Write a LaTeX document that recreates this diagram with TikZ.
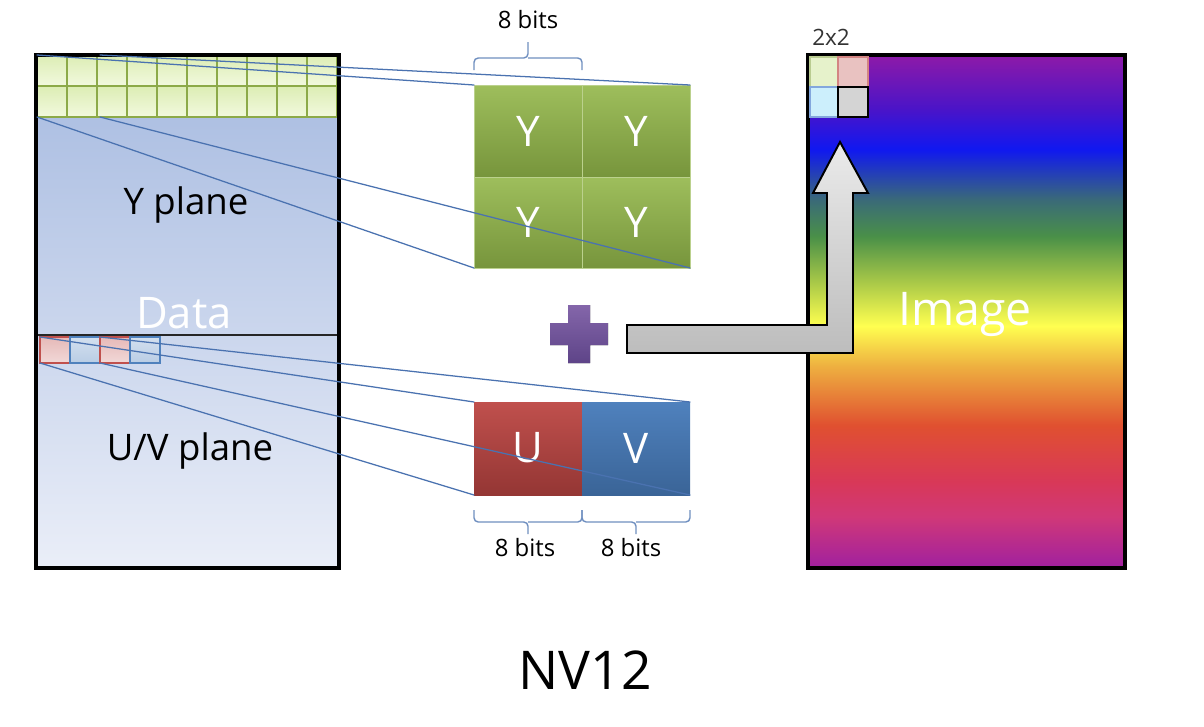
\documentclass[tikz,border=0pt]{standalone}
\usepackage{fontspec}
\setmainfont{Open Sans}
\usepackage{tkz-euclide}

\definecolor{lineblue}{HTML}{4A72B0}
\definecolor{bracecol}{HTML}{6F8FC0}
\definecolor{datatop}{HTML}{A6BAE0}
\definecolor{databot}{HTML}{EAEEF8}
\definecolor{ygrid}{HTML}{8CAA48}
\definecolor{ytiletop}{HTML}{DCEDB4}
\definecolor{ytilebot}{HTML}{F2F9DE}
\definecolor{ytop}{HTML}{9EBE5C}
\definecolor{ybot}{HTML}{77953C}
\definecolor{utop}{HTML}{C0504D}
\definecolor{ubot}{HTML}{943634}
\definecolor{vtop}{HTML}{4F81BD}
\definecolor{vbot}{HTML}{3A6497}
\definecolor{ptop}{HTML}{8466AA}
\definecolor{pbot}{HTML}{5E4488}
\definecolor{rb1}{HTML}{A020A0}
\definecolor{rb2}{HTML}{D03878}
\definecolor{rb3}{HTML}{D83858}
\definecolor{rb4}{HTML}{E05030}
\definecolor{rb5}{HTML}{EEB040}
\definecolor{rb6}{HTML}{FFFF50}
\definecolor{rb7}{HTML}{A8C848}
\definecolor{rb8}{HTML}{4A9048}
\definecolor{rb9}{HTML}{3A6A78}
\definecolor{rb10}{HTML}{1018F0}
\definecolor{rb11}{HTML}{4A14C8}
\definecolor{rb12}{HTML}{8E1AA8}
\pgfdeclareverticalshading{rainbow}{100bp}{color(0bp)=(rb1); color(25bp)=(rb1);
  color(30bp)=(rb2); color(33.4bp)=(rb3); color(38.9bp)=(rb4); color(44.7bp)=(rb5);
  color(48.6bp)=(rb6); color(52.9bp)=(rb7); color(57.3bp)=(rb8); color(60.9bp)=(rb9);
  color(65.8bp)=(rb10); color(69.7bp)=(rb11); color(75bp)=(rb12); color(100bp)=(rb12)}

\tikzset{
  ytile/.style={draw=ygrid,line width=1.6pt,top color=ytiletop,bottom color=ytilebot},
  ucell/.style={draw=utop,line width=1pt,top color=utop!40,bottom color=utop!22},
  vcell/.style={draw=vtop,line width=1pt,top color=vtop!25,bottom color=vtop!40},
  ycell/.style={draw=ytop!70!white,line width=0.6pt,top color=ytop,bottom color=ybot},
  letter/.style={text=white,font=\fontsize{30}{34}\selectfont},
  bits/.style={font=\fontsize{17}{20}\selectfont},
  plane/.style={font=\fontsize{26}{30}\selectfont},
  brc/.style={draw=bracecol,line width=1pt,rounded corners=3pt}
}

\begin{document}
\begin{tikzpicture}[x=0.025cm,y=-0.025cm]
\useasboundingbox[fill=white] (0,0) rectangle (1204,726);
% data buffer
\fill[top color=datatop,bottom color=databot] (36,55) rectangle (339,568);
\draw[black!85,line width=0.8pt] (36,335) -- (339,335);
\foreach \i in {0,...,9}
  \foreach \j in {0,1}
    \draw[ytile] ({37+30*\i},{55+31*\j}) rectangle ++(30,31);
\draw[ucell] (40,337) rectangle (70,363);
\draw[vcell] (70,337) rectangle (100,363);
\draw[ucell] (100,337) rectangle (130,363);
\draw[vcell] (130,337) rectangle (160,363);
\draw[line width=2.8pt] (36,55) rectangle (339,568);
\node[plane] (yplane) at (186,205) {Y plane};
\node[text=white,font=\fontsize{31}{36}\selectfont] (data) at (184,313) {Data};
\node[plane] (uvplane) at (190,451) {U/V plane};
% Y samples
\draw[ycell] (474,85) rectangle (582,177);
\draw[ycell] (582,85) rectangle (690,177);
\draw[ycell] (474,177) rectangle (582,268);
\draw[ycell] (582,177) rectangle (690,268);
\node[letter] (y1) at (528,131) {Y};
\node[letter] (y2) at (636,131) {Y};
\node[letter] (y3) at (528,222) {Y};
\node[letter] (y4) at (636,222) {Y};
% U/V samples
\fill[top color=utop,bottom color=ubot] (474,402) rectangle (582,495);
\fill[top color=vtop,bottom color=vbot] (582,402) rectangle (690,495);
\node[letter] (u) at (528,448) {U};
\node[letter] (v) at (636,448) {V};
% braces
\draw[brc] (474,70) |- (528,58) -- (528,42);
\draw[brc] (582,70) |- (528,58);
\draw[brc] (474,510) |- (528,522) -- (528,534);
\draw[brc] (582,510) |- (528,522);
\draw[brc] (582,510) |- (636,522) -- (636,534);
\draw[brc] (690,510) |- (636,522);
\node[bits] (bitsy) at (528,20) {8 bits};
\node[bits] (bitsu) at (525,548) {8 bits};
\node[bits] (bitsv) at (631,548) {8 bits};
% lines
\tkzDefPoints{37/55/ya,100/55/yb,37/117/yc,100/117/yd,474/85/Ya,690/85/Yb,474/268/Yc,690/268/Yd}
\tkzDefPoints{40/337/ua,100/337/ub,40/363/uc,100/363/ud,474/402/Ua,690/402/Ub,474/495/Uc,690/495/Ud}
\tkzDrawSegments[color=lineblue,line width=0.9pt](ya,Ya yb,Yb yc,Yc yd,Yd)
\tkzDrawSegments[color=lineblue,line width=0.9pt](ua,Ua ub,Ub uc,Uc ud,Ud)
% plus
\fill[top color=ptop,bottom color=pbot]
  (568,305) -- (590,305) -- (590,323) -- (608,323) -- (608,345) -- (590,345)
  -- (590,363) -- (568,363) -- (568,345) -- (550,345) -- (550,323) -- (568,323) -- cycle;
% image
\draw[line width=2.8pt,shading=rainbow] (808,55) rectangle (1125,568);
\draw[draw=ygrid!60,line width=0.8pt,fill=ytiletop!70] (810,57) rectangle (838,87);
\draw[draw=utop!70,line width=0.8pt,fill=utop!35] (838,57) rectangle (868,87);
\draw[draw=cyan!50!blue!50,line width=0.8pt,fill=cyan!20] (810,87) rectangle (838,117);
\draw[draw=black,line width=0.8pt,fill=black!17] (838,87) rectangle (868,117);
\node[font=\fontsize{16}{20}\selectfont,text=black!80] (twobytwo) at (831,37) {2x2};
\node[text=white,font=\fontsize{33}{38}\selectfont] (image) at (965,315) {Image};
% arrow
\draw[line width=1.4pt,top color=black!8,bottom color=black!26]
  (627,325) -- (827,325) -- (827,193) -- (813,193) -- (840,142) -- (868,193)
  -- (853,193) -- (853,353) -- (627,353) -- cycle;
\node[font=\fontsize{38}{44}\selectfont] (nv12) at (585,670) {NV12};
\end{tikzpicture}
\end{document}
